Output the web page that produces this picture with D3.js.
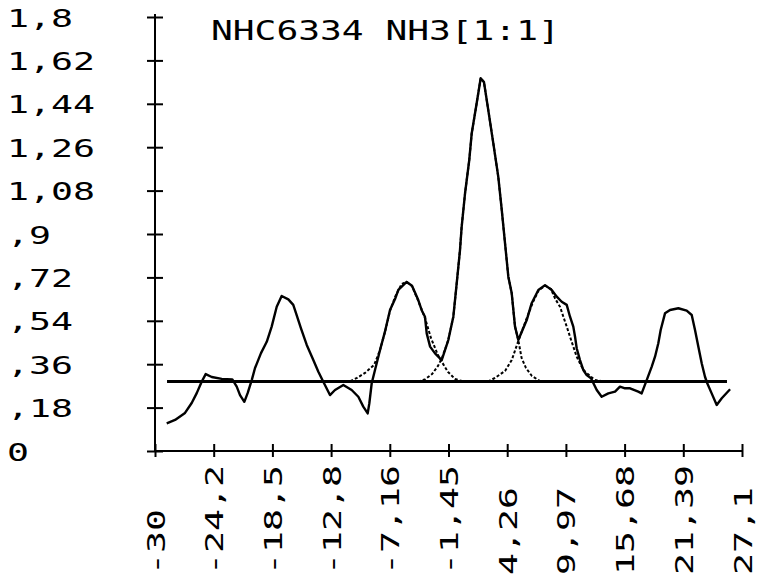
<!DOCTYPE html>
<html><head><meta charset="utf-8">
<script src="https://cdn.jsdelivr.net/npm/d3@7"></script>
<style>
body{margin:0;background:#fff}
svg{display:block;background:#fff}
text{font-family:"DejaVu Sans Mono",monospace;fill:#000}
</style>
</head><body>
<svg id="c" width="763" height="585"></svg>
<script>
// ---------- data ----------
const titleText = "NHC6334 NH3[1:1]";
const yTickValues = [0, 0.18, 0.36, 0.54, 0.72, 0.9, 1.08, 1.26, 1.44, 1.62, 1.8];
const yTickLabels = ["0", ",18", ",36", ",54", ",72", ",9", "1,08", "1,26", "1,44", "1,62", "1,8"];
const xTickValues = [-30, -24.29, -18.58, -12.87, -7.16, -1.45, 4.26, 9.97, 15.68, 21.39, 27.1];
const xTickLabels = ["-30", "-24,2", "-18,5", "-12,8", "-7,16", "-1,45", "4,26", "9,97", "15,68", "21,39", "27,1"];

// observed spectrum
const obsVel = [-28.86,-28.05,-27.08,-26.43,-25.94,-25.46,-25.07,-24.48,-23.51,-22.48,-22.05,-21.73,-21.31,-20.98,-20.59,-20.27,-19.69,-19.13,-18.65,-18.16,-17.68,-17.03,-16.55,-16.22,-15.80,-15.24,-14.60,-14.11,-13.63,-12.98,-12.49,-11.68,-10.87,-10.22,-9.74,-9.31,-9.15,-8.92,-8.60,-8.11,-7.63,-7.14,-6.65,-6.33,-5.52,-5.00,-4.39,-4.06,-3.74,-3.57,-3.24,-2.76,-2.11,-1.47,-0.98,-0.65,-0.33,-0.17,0.16,0.57,0.81,1.29,1.68,2.00,2.42,2.91,3.39,3.73,4.05,4.37,4.70,5.02,5.34,6.16,6.64,7.29,7.94,8.59,9.08,9.56,10.05,10.37,10.69,10.86,11.02,11.34,11.66,11.99,12.41,12.97,13.45,14.10,14.75,15.23,15.72,16.21,17.01,17.34,17.83,18.32,18.64,18.96,19.19,19.61,20.10,20.91,21.72,22.21,22.53,22.85,23.18,23.50,23.72,24.15,24.64,25.13,25.94];
const obsVal = [0.115,0.129,0.158,0.199,0.240,0.287,0.319,0.307,0.299,0.297,0.267,0.232,0.204,0.241,0.294,0.344,0.406,0.453,0.516,0.598,0.643,0.629,0.606,0.564,0.509,0.440,0.377,0.329,0.287,0.232,0.253,0.274,0.253,0.225,0.184,0.156,0.198,0.281,0.336,0.419,0.495,0.585,0.630,0.668,0.701,0.685,0.626,0.584,0.557,0.488,0.433,0.405,0.377,0.460,0.557,0.696,0.834,0.930,1.069,1.207,1.318,1.442,1.546,1.530,1.414,1.276,1.138,1.000,0.861,0.723,0.654,0.516,0.460,0.543,0.613,0.668,0.688,0.668,0.640,0.619,0.606,0.557,0.516,0.474,0.426,0.377,0.336,0.315,0.302,0.253,0.225,0.239,0.246,0.267,0.260,0.260,0.246,0.239,0.294,0.350,0.391,0.447,0.502,0.571,0.585,0.592,0.582,0.564,0.502,0.433,0.364,0.308,0.281,0.239,0.191,0.219,0.256];

// fitted gaussian components
const fitAVel = [-11.0,-10.35,-9.57,-8.68,-8.11,-7.63,-7.14,-6.65,-6.00,-5.52,-5.00,-4.39,-3.74,-3.16,-2.48,-2.09,-1.50,-0.82,-0.14];
const fitAVal = [0.290,0.303,0.324,0.357,0.419,0.494,0.581,0.639,0.693,0.701,0.684,0.622,0.552,0.469,0.398,0.369,0.328,0.299,0.290];
const fitBVel = [-4.42,-3.74,-3.05,-2.47,-2.08,-1.47,-0.98,-0.65,-0.33,-0.17,0.16,0.57,0.81,1.29,1.68,2.00,2.42,2.91,3.39,3.73,4.05,4.37,4.70,5.02,5.34,5.66,6.09,6.67,7.45];
const fitBVal = [0.288,0.297,0.319,0.353,0.386,0.460,0.557,0.696,0.834,0.930,1.069,1.207,1.318,1.442,1.546,1.530,1.414,1.276,1.138,1.000,0.861,0.723,0.654,0.516,0.460,0.386,0.344,0.311,0.290];
const fitCVel = [2.39,3.07,4.05,4.70,5.34,5.80,6.28,6.77,7.29,7.94,8.52,8.91,9.40,9.72,10.05,10.37,10.69,11.02,11.50,11.83,12.80,13.77];
const fitCVal = [0.288,0.303,0.332,0.377,0.456,0.510,0.564,0.618,0.664,0.686,0.672,0.633,0.598,0.557,0.516,0.474,0.433,0.391,0.350,0.329,0.294,0.288];

const baselineVel = [-28.83, 25.64];
const baselineVal = [0.288, 0.288];

// ---------- drawing ----------
const svg = d3.select("#c");
const x = d3.scaleLinear().domain([-30, 27.1]).range([155, 742]);
const y = d3.scaleLinear().domain([0, 1.8]).range([451, 17]);

const line = d3.line().x(d => x(d[0])).y(d => y(d[1]));
const zip = (a, b) => a.map((v, i) => [v, b[i]]);

const CH = 22; // character pitch

// y axis
const yAxis = d3.axisLeft(y).tickValues(yTickValues).tickFormat((d, i) => yTickLabels[i]).tickSize(8).tickPadding(0);
const gy = svg.append("g").attr("transform", "translate(155,0)").call(yAxis);
gy.select(".domain").remove();
gy.selectAll(".tick line").attr("x1", -8).attr("x2", 8).attr("stroke", "#000").attr("stroke-width", 2);
gy.selectAll(".tick text")
  .attr("x", -148).attr("dy", null).attr("y", 9)
  .attr("text-anchor", "start")
  .style("font-size", "25px")
  .attr("textLength", d => yTickLabels[yTickValues.indexOf(d)].length * CH)
  .attr("lengthAdjust", "spacingAndGlyphs");
svg.append("line").attr("x1", 155).attr("x2", 155).attr("y1", y(1.8) - 3).attr("y2", y(0))
  .attr("stroke", "#000").attr("stroke-width", 2);

// x axis
const xAxis = d3.axisBottom(x).tickValues(xTickValues).tickFormat((d, i) => xTickLabels[i]).tickSize(6).tickPadding(0);
const gx = svg.append("g").attr("transform", "translate(0,451)").call(xAxis);
gx.select(".domain").remove();
gx.selectAll(".tick line").attr("y1", -7).attr("y2", 6).attr("stroke", "#000").attr("stroke-width", 2);
gx.selectAll(".tick text")
  .attr("transform", "rotate(-90)")
  .attr("x", -124).attr("y", 9).attr("dy", null)
  .attr("text-anchor", "start")
  .style("font-size", "25px")
  .attr("textLength", d => xTickLabels[xTickValues.indexOf(d)].length * CH)
  .attr("lengthAdjust", "spacingAndGlyphs");
svg.append("line").attr("x1", x(-30)).attr("x2", x(27.1)).attr("y1", y(0)).attr("y2", y(0))
  .attr("stroke", "#000").attr("stroke-width", 2);

// title
svg.append("text").attr("x", 211).attr("y", 40)
  .style("font-size", "26px")
  .attr("textLength", titleText.length * 21.8)
  .attr("lengthAdjust", "spacingAndGlyphs")
  .text(titleText);

// baseline
svg.append("path").datum(zip(baselineVel, baselineVal)).attr("d", line)
  .attr("fill", "none").attr("stroke", "#000").attr("stroke-width", 3);

// fit components
[[fitAVel, fitAVal], [fitBVel, fitBVal], [fitCVel, fitCVal]].forEach(([v, s]) => {
  svg.append("path").datum(zip(v, s)).attr("d", line)
    .attr("fill", "none").attr("stroke", "#000").attr("stroke-width", 2)
    .attr("stroke-dasharray", "3,2");
});

// observed
svg.append("path").datum(zip(obsVel, obsVal)).attr("d", line)
  .attr("fill", "none").attr("stroke", "#000").attr("stroke-width", 2.4)
  .attr("stroke-linejoin", "round");
</script>
</body></html>
